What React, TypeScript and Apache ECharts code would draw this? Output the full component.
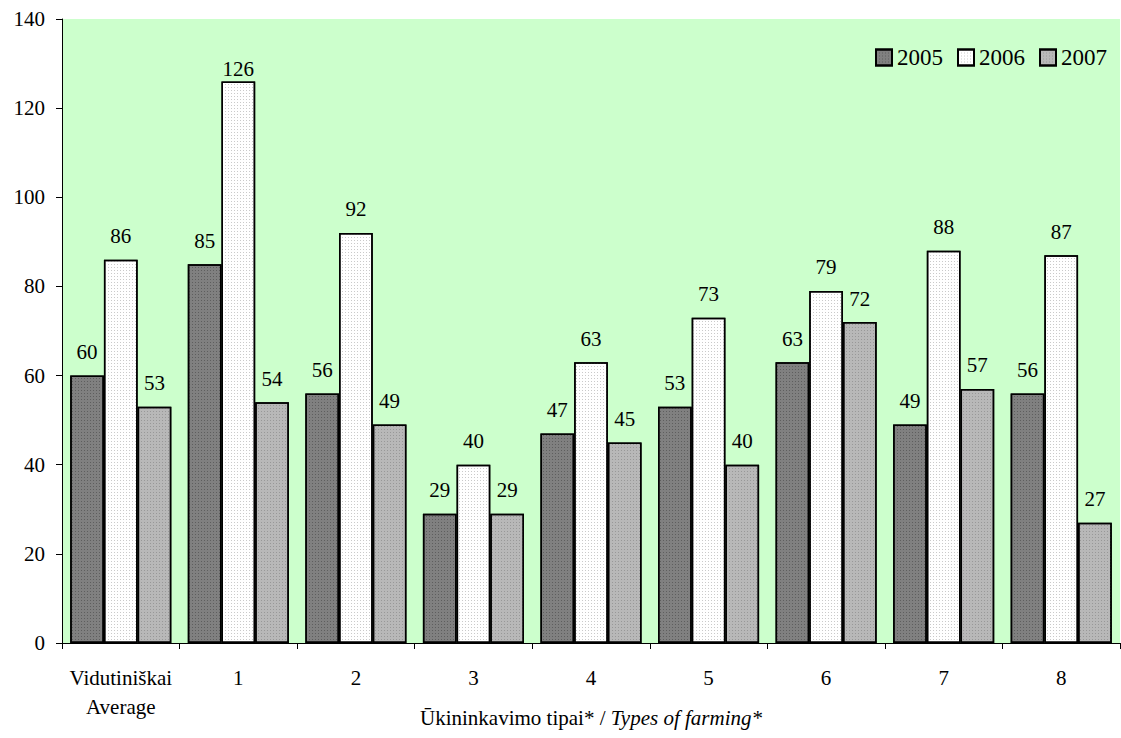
import React, { useEffect, useRef } from "react";
import * as echarts from "echarts";

const categories = ["Vidutiniškai\nAverage", "1", "2", "3", "4", "5", "6", "7", "8"];
const seriesNames = ["2005", "2006", "2007"];
const values2005 = [60, 85, 56, 29, 47, 53, 63, 49, 56];
const values2006 = [86, 126, 92, 40, 63, 73, 79, 88, 87];
const values2007 = [53, 54, 49, 29, 45, 40, 72, 57, 27];
const yTicks = { min: 0, max: 140, interval: 20 };

const FONT = "Liberation Serif, Times New Roman, DejaVu Serif, serif";

export default function App() {
  const ref = useRef<HTMLDivElement>(null);
  useEffect(() => {
    const chart = echarts.init(ref.current!, null, { renderer: "svg" });
    const colors = ["#808080", "#ffffff", "#b8b8b8"];
    const dotColors = ["rgba(60,60,60,0.5)", "rgba(150,150,150,0.5)", "rgba(120,120,120,0.5)"];
    const data = [values2005, values2006, values2007];
    chart.setOption({
      animation: false,
      backgroundColor: "#ffffff",
      textStyle: { fontFamily: FONT, color: "#000" },
      grid: {
        left: 62,
        top: 19,
        right: 1,
        bottom: 95,
        containLabel: false,
        outerBoundsMode: "none",
        show: true,
        backgroundColor: "#ccffcc",
        borderWidth: 0,
      },
      legend: {
        top: 41,
        right: 9,
        itemWidth: 16,
        itemHeight: 16,
        itemGap: 14,
        icon: "rect",
        textStyle: { fontFamily: FONT, fontSize: 23, color: "#000" },
        data: seriesNames,
      },
      xAxis: {
        type: "category",
        data: categories,
        axisLine: { show: true, lineStyle: { color: "#000", width: 1 } },
        axisTick: { show: true, length: 6, lineStyle: { color: "#000" } },
        axisLabel: {
          fontFamily: FONT,
          fontSize: 21,
          color: "#000",
          margin: 20,
          lineHeight: 29,
          interval: 0,
        },
        name: "{a|Ūkininkavimo tipai* / }{b|Types of farming*}",
        nameLocation: "middle",
        nameGap: 64,
        nameMoveOverlap: false,
        nameTextStyle: {
          rich: {
            a: { fontFamily: FONT, fontSize: 21, color: "#000" },
            b: { fontFamily: FONT, fontSize: 21, color: "#000", fontStyle: "italic" },
          },
        },
      },
      yAxis: {
        type: "value",
        min: yTicks.min,
        max: yTicks.max,
        interval: yTicks.interval,
        axisLine: { show: true, lineStyle: { color: "#000", width: 1 } },
        axisTick: { show: true, length: 6, lineStyle: { color: "#000" } },
        splitLine: { show: false },
        axisLabel: { fontFamily: FONT, fontSize: 21, color: "#000", margin: 17 },
      },
      series: seriesNames.map((name, i) => ({
        name,
        type: "bar",
        data: data[i].map((v) =>
          v > 120 ? { value: v, label: { distance: 2 } } : v
        ),
        barGap: "0%",
        barCategoryGap: "14%",
        itemStyle: {
          color: colors[i],
          borderColor: "#000",
          borderWidth: 1.5,
          decal: {
            symbol: "rect",
            symbolSize: 1,
            dashArrayX: [1, 2],
            dashArrayY: [1, 2],
            color: dotColors[i],
          },
        },
        label: {
          show: true,
          position: "top",
          distance: 13,
          fontFamily: FONT,
          fontSize: 21,
          color: "#000",
        },
      })),
    });
    return () => chart.dispose();
  }, []);
  return (
    <div
      ref={ref}
      style={{ position: "fixed", left: 0, top: 0, width: 1121, height: 738 }}
    />
  );
}
